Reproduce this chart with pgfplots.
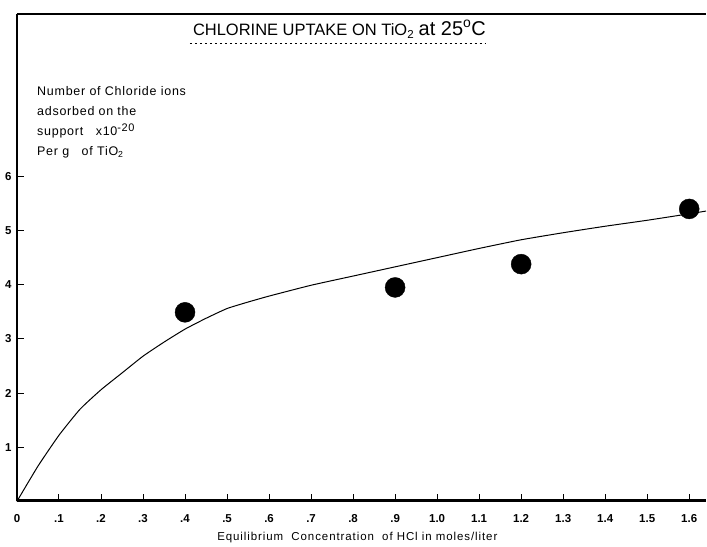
\documentclass[border=0pt]{standalone}
\usepackage{fontspec}
\setmainfont{Liberation Sans}
\usepackage{pgfplots}
\pgfplotsset{compat=1.18}
\begin{document}
\begin{tikzpicture}
\begin{axis}[
  scale only axis, width=690pt, height=488pt,
  xmin=0, xmax=1.64, ymin=0, ymax=9,
  axis lines=left,
  axis line style={-, line width=1.3pt},
  xtick={0,0.1,0.2,0.3,0.4,0.5,0.6,0.7,0.8,0.9,1.0,1.1,1.2,1.3,1.4,1.5,1.6},
  xticklabels={0,.1,.2,.3,.4,.5,.6,.7,.8,.9,1.0,1.1,1.2,1.3,1.4,1.5,1.6},
  ytick={1,2,3,4,5,6},
  yticklabels={1,2,3,4,5,6},
  tick align=inside,
  major tick length=7pt,
  tick style={line width=1pt, black},
  xticklabel style={font=\bfseries\fontsize{11.5}{13}\selectfont, text height=8.3pt, text depth=0pt, yshift=-9pt},
  yticklabel style={font=\bfseries\fontsize{11.5}{13}\selectfont, xshift=-2pt},
  /pgf/number format/assume math mode=true,
  clip=false,
]
\addplot[black, line width=1pt, smooth, tension=0.3] coordinates {
(0,0) (0.05,0.65) (0.1,1.22) (0.15,1.70) (0.2,2.06) (0.25,2.37) (0.3,2.68)
(0.35,2.94) (0.4,3.18) (0.45,3.38) (0.5,3.56) (0.55,3.68) (0.6,3.79)
(0.7,3.99) (0.8,4.16) (0.9,4.33) (1.0,4.50) (1.1,4.67) (1.2,4.83)
(1.3,4.96) (1.4,5.08) (1.5,5.19) (1.6,5.31) (1.64,5.36)
};
\addplot[only marks, mark=*, mark size=10pt, black] coordinates {
(0.4,3.49) (0.9,3.95) (1.2,4.38) (1.6,5.40)
};
\draw[line width=1.3pt] (rel axis cs:0,1) -- (rel axis cs:1,1);
\draw[line width=2pt, black] (rel axis cs:0,0.002) -- (rel axis cs:1,0.002);
\node[anchor=base, inner sep=0] at (axis description cs:0.468,0.956)
  {\fontsize{16.5}{19}\selectfont CHLORINE UPTAKE ON TiO\textsubscript{2} {\fontsize{20}{22}\selectfont at 25\textsuperscript{o}C}};
\draw[line width=0.8pt, dash pattern=on 2pt off 3pt] (axis description cs:0.251,0.9406) -- (axis description cs:0.681,0.9406);
\node[anchor=north west, align=left, inner sep=0, font=\addfontfeatures{LetterSpace=6}\fontsize{12.5}{20}\selectfont]
  at (axis description cs:0.029,0.852)
  {Number of Chloride ions\\adsorbed on the\\support\quad x10\raisebox{0.6ex}{\fontsize{11}{12}\selectfont -20}\\Per g\quad of TiO\textsubscript{2}};
\node[anchor=center, inner sep=0, font=\addfontfeatures{LetterSpace=8}\fontsize{11.5}{14}\selectfont]
  at (axis description cs:0.494,-0.075) {Equilibrium\ \ Concentration\ \ of HCl in moles/liter};
\end{axis}
\path ([shift={(-17pt,-45pt)}]current axis.south west) rectangle ([shift={(0pt,14pt)}]current axis.north east);
\end{tikzpicture}
\end{document}
